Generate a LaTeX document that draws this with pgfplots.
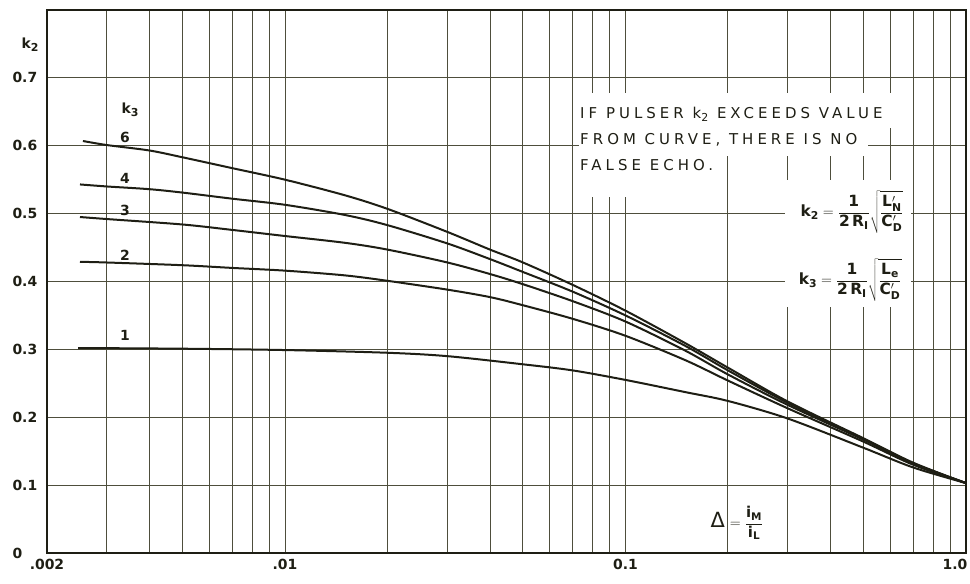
\documentclass[border=0pt]{standalone}
\usepackage{pgfplots}
\pgfplotsset{compat=1.18}
\usepackage{pgfplotstable}
\usepackage{fontspec}
\setmainfont{DejaVu Sans}
\newfontfamily\letterfont[LetterSpace=27]{DejaVu Sans}
\definecolor{ink}{HTML}{1E1E14}
\definecolor{gridc}{HTML}{4E4E3C}
\newcommand{\sub}[1]{\raisebox{-0.35ex}{\fontsize{11}{11}\selectfont #1}}
\newsavebox{\boxnote}
\newsavebox{\boxktwo}
\newsavebox{\boxkthree}
\newsavebox{\boxdelta}

\pgfplotstableread{
x y
0.00255 0.607
0.003 0.601
0.004 0.593
0.005 0.583
0.007 0.567
0.01 0.550
0.015 0.527
0.02 0.507
0.03 0.473
0.04 0.447
0.05 0.428
0.07 0.395
0.1 0.357
0.15 0.309
0.2 0.273
0.3 0.223
0.5 0.169
0.7 0.133
1.0 0.103
}\curvesix

\pgfplotstableread{
x y
0.0025 0.543
0.003 0.540
0.004 0.536
0.005 0.531
0.007 0.522
0.01 0.513
0.015 0.498
0.02 0.483
0.03 0.456
0.04 0.433
0.05 0.414
0.07 0.385
0.1 0.350
0.15 0.305
0.2 0.269
0.3 0.221
0.5 0.168
0.7 0.132
1.0 0.103
}\curvefour

\pgfplotstableread{
x y
0.0025 0.495
0.003 0.492
0.005 0.484
0.007 0.476
0.01 0.467
0.015 0.457
0.02 0.447
0.03 0.428
0.04 0.411
0.05 0.396
0.07 0.371
0.1 0.341
0.15 0.298
0.2 0.263
0.3 0.218
0.5 0.167
0.7 0.132
1.0 0.103
}\curvethree

\pgfplotstableread{
x y
0.0025 0.429
0.003 0.428
0.005 0.424
0.007 0.420
0.01 0.416
0.015 0.409
0.02 0.401
0.03 0.388
0.04 0.377
0.05 0.365
0.07 0.345
0.1 0.320
0.15 0.284
0.2 0.254
0.3 0.213
0.5 0.164
0.7 0.130
1.0 0.103
}\curvetwo

\pgfplotstableread{
x y
0.00247 0.302
0.005 0.301
0.01 0.299
0.02 0.295
0.03 0.290
0.05 0.278
0.07 0.269
0.1 0.255
0.15 0.237
0.2 0.224
0.3 0.198
0.5 0.155
0.7 0.126
1.0 0.103
}\curveone

\begin{document}%
\sbox{\boxnote}{\color{ink}\letterfont\fontsize{15}{26}\selectfont
  \begin{tabular}{@{}l@{}}%
  IF PULSER k\sub{2} EXCEEDS VALUE\\
  FROM CURVE, THERE IS NO\\
  FALSE ECHO.%
  \end{tabular}}%
\sbox{\boxktwo}{\color{ink}\fontsize{15.5}{18}\selectfont
  $\displaystyle\mathbf{k_2 = \frac{1}{2\,R_I}\sqrt{\frac{L^{\prime}_N}{C^{\prime}_D}}}$}%
\sbox{\boxkthree}{\color{ink}\fontsize{15.5}{18}\selectfont
  $\displaystyle\mathbf{k_3 = \frac{1}{2\,R_I}\sqrt{\frac{L_e}{C^{\prime}_D}}}$}%
\sbox{\boxdelta}{\color{ink}%
  {\fontsize{21}{21}\selectfont Δ}\hspace{5bp}{\fontsize{15}{18}\selectfont\bfseries$\displaystyle\mathbf{= \frac{i_M}{i_L}}$}}%
\begin{tikzpicture}
\begin{axis}[
  scale only axis, width=919bp, height=543bp,
  xmode=log, xmin=0.002, xmax=1, ymin=0, ymax=0.8,
  xtick={0.002,0.01,0.1,1}, xticklabels={.002,.01,0.1,\hspace*{-22bp}1.0},
  minor xtick={0.003,0.004,0.005,0.006,0.007,0.008,0.009,0.02,0.03,0.04,0.05,0.06,0.07,0.08,0.09,0.2,0.3,0.4,0.5,0.6,0.7,0.8,0.9},
  ytick={0,0.1,0.2,0.3,0.4,0.5,0.6,0.7},
  yticklabels={0,0.1,0.2,0.3,0.4,0.5,0.6,0.7},
  grid=both,
  major grid style={draw=gridc, line width=1bp},
  minor grid style={draw=gridc, line width=1bp},
  axis line style={draw=ink, line width=1.6bp},
  major tick length=0pt, minor tick length=0pt,
  ticklabel style={font=\fontsize{14}{14}\selectfont\bfseries, text=ink},
  yticklabel style={anchor=west, xshift=-38bp},
  xticklabel style={yshift=-3bp},
  clip=false,
]
\fill[white] (rel axis cs:0.5789,0.8471) rectangle (rel axis cs:0.9206,0.7827);
\fill[white] (rel axis cs:0.5789,0.7827) rectangle (rel axis cs:0.8934,0.7311);
\fill[white] (rel axis cs:0.5789,0.7311) rectangle (rel axis cs:0.7236,0.6556);
\fill[white] (rel axis cs:0.8030,0.6869) rectangle (rel axis cs:0.9402,0.453);

\addplot[ink, line width=2bp, smooth] table {\curvesix};
\addplot[ink, line width=2bp, smooth] table {\curvefour};
\addplot[ink, line width=2bp, smooth] table {\curvethree};
\addplot[ink, line width=2bp, smooth] table {\curvetwo};
\addplot[ink, line width=2bp, smooth] table {\curveone};

\coordinate (SW) at (rel axis cs:0,0);
\coordinate (NE) at (rel axis cs:1,1);
\coordinate (Lk2) at (rel axis cs:0,0.9355);
\coordinate (Lk3) at (rel axis cs:0.0903,0.816);
\coordinate (L6) at (rel axis cs:0.0849,0.766);
\coordinate (L4) at (rel axis cs:0.0849,0.6906);
\coordinate (L3) at (rel axis cs:0.0849,0.6317);
\coordinate (L2) at (rel axis cs:0.0849,0.5488);
\coordinate (L1) at (rel axis cs:0.0849,0.4015);
\coordinate (Note) at (rel axis cs:0.5800,0.834);
\coordinate (F2) at (rel axis cs:0.8760,0.628);
\coordinate (F3) at (rel axis cs:0.8740,0.5028);
\coordinate (FD) at (rel axis cs:0.7508,0.0552);
\end{axis}

\begin{scope}[every node/.style={text=ink, font=\fontsize{14}{14}\selectfont\bfseries}]
\node[xshift=-17bp] at (Lk2) {k\sub{2}};
\node at (Lk3) {k\sub{3}};
\node at (L6) {6};
\node at (L4) {4};
\node at (L3) {3};
\node at (L2) {2};
\node at (L1) {1};
\end{scope}

\node[anchor=north west, inner sep=0pt] at (Note) {\usebox{\boxnote}};
\node[inner sep=0pt] at (F2) {\usebox{\boxktwo}};
\node[inner sep=0pt] at (F3) {\usebox{\boxkthree}};
\node[inner sep=0pt] at (FD) {\usebox{\boxdelta}};

\pgfresetboundingbox
\path[use as bounding box] ([xshift=-47bp,yshift=-31bp]SW) rectangle ([xshift=4bp,yshift=10bp]NE);
\end{tikzpicture}%
\end{document}
